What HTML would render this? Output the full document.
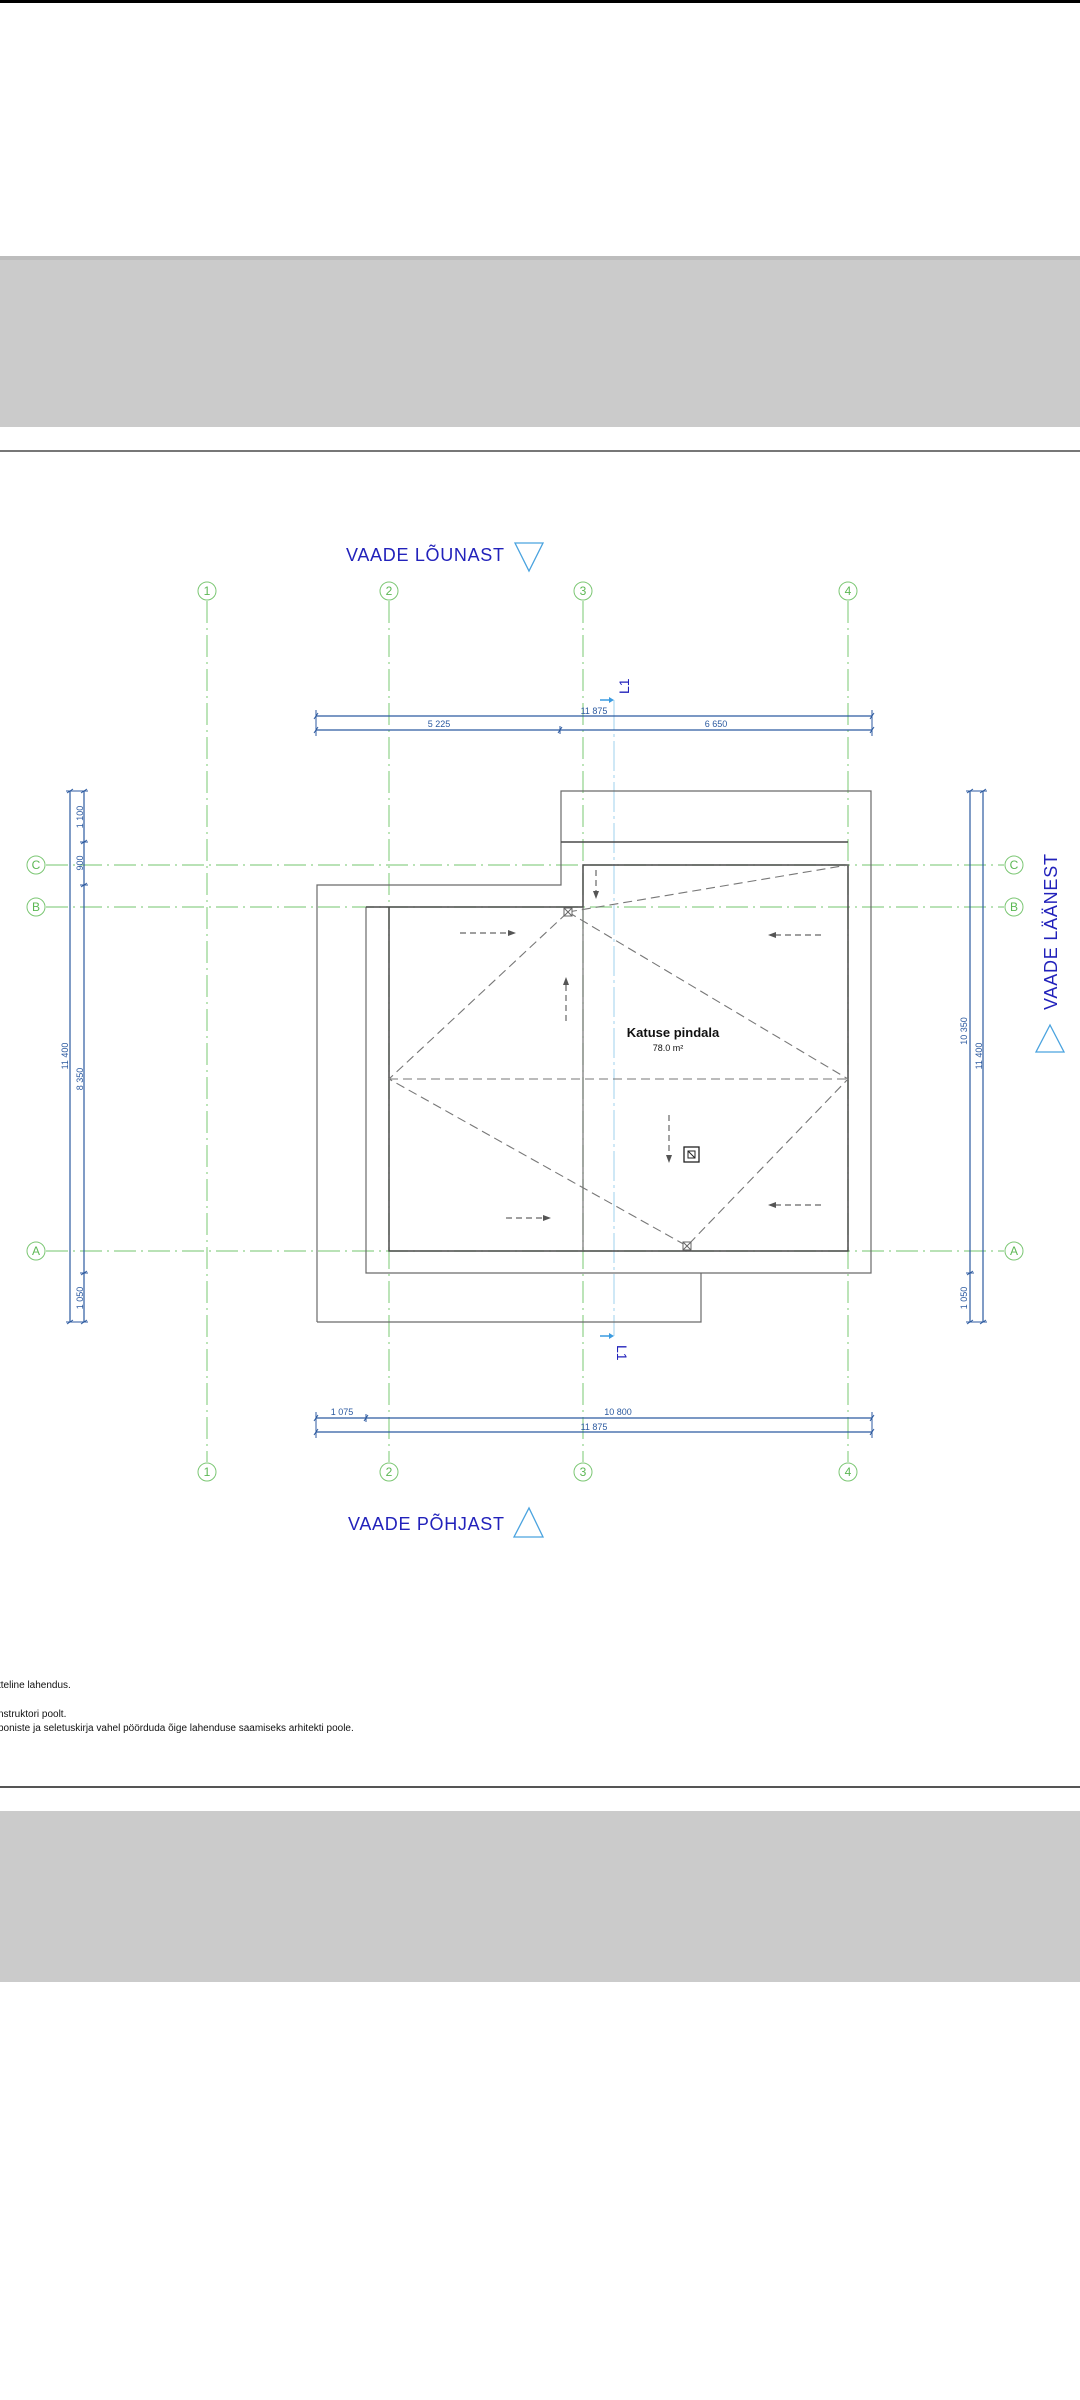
<!DOCTYPE html>
<html><head><meta charset="utf-8"><style>
html,body{margin:0;padding:0;background:#fff;width:1080px;height:2400px;overflow:hidden}
svg{display:block}
text{font-family:"Liberation Sans",Arial,sans-serif}
</style></head><body>
<svg width="1080" height="2400" viewBox="0 0 1080 2400" xmlns="http://www.w3.org/2000/svg">
<rect x="0" y="0" width="1080" height="3" fill="#000"/>
<rect x="0" y="256" width="1080" height="171" fill="#cbcbcb"/>
<rect x="0" y="256" width="1080" height="4" fill="#bdbdbd"/>
<rect x="0" y="450" width="1080" height="2" fill="#777"/>
<rect x="0" y="1786" width="1080" height="2" fill="#555"/>
<rect x="0" y="1811" width="1080" height="171" fill="#cbcbcb"/>

<g stroke="#8fd18a" stroke-width="1.2" stroke-dasharray="22,5,2,5" fill="none">
<line x1="207" y1="601" x2="207" y2="1462"/>
<line x1="389" y1="601" x2="389" y2="1462"/>
<line x1="583" y1="601" x2="583" y2="1462"/>
<line x1="848" y1="601" x2="848" y2="1462"/>
<line x1="46" y1="865" x2="1004" y2="865"/>
<line x1="46" y1="907" x2="1004" y2="907"/>
<line x1="46" y1="1251" x2="1004" y2="1251"/>
</g>
<g stroke="#7cc774" stroke-width="1" fill="#fff">
<circle cx="207" cy="591" r="9"/><circle cx="389" cy="591" r="9"/><circle cx="583" cy="591" r="9"/><circle cx="848" cy="591" r="9"/>
<circle cx="207" cy="1472" r="9"/><circle cx="389" cy="1472" r="9"/><circle cx="583" cy="1472" r="9"/><circle cx="848" cy="1472" r="9"/>
<circle cx="36" cy="865" r="9"/><circle cx="36" cy="907" r="9"/><circle cx="36" cy="1251" r="9"/>
<circle cx="1014" cy="865" r="9"/><circle cx="1014" cy="907" r="9"/><circle cx="1014" cy="1251" r="9"/>
</g>
<g fill="#5cb854" font-size="12" text-anchor="middle">
<text x="207" y="595">1</text><text x="389" y="595">2</text><text x="583" y="595">3</text><text x="848" y="595">4</text>
<text x="207" y="1476">1</text><text x="389" y="1476">2</text><text x="583" y="1476">3</text><text x="848" y="1476">4</text>
<text x="36" y="869">C</text><text x="36" y="911">B</text><text x="36" y="1255">A</text>
<text x="1014" y="869">C</text><text x="1014" y="911">B</text><text x="1014" y="1255">A</text>
</g>

<text x="346" y="561" font-size="18" fill="#2222bb" textLength="158">VAADE LÕUNAST</text>
<polygon points="515,543 543,543 529,571" fill="none" stroke="#4aa3df" stroke-width="1.3"/>
<text x="348" y="1530" font-size="18" fill="#2222bb" textLength="156">VAADE PÕHJAST</text>
<polygon points="514,1537 543,1537 529,1508" fill="none" stroke="#4aa3df" stroke-width="1.3"/>
<text transform="translate(1057,1010) rotate(-90)" font-size="18" fill="#2222bb" textLength="156">VAADE LÄÄNEST</text>
<polygon points="1036,1052 1064,1052 1050,1025" fill="none" stroke="#4aa3df" stroke-width="1.3"/>

<line x1="614" y1="700" x2="614" y2="1336" stroke="#9fd0ee" stroke-width="1" stroke-dasharray="30,4,3,4"/>
<line x1="600" y1="700" x2="612" y2="700" stroke="#3b9be0" stroke-width="1.5"/>
<polygon points="614,700 609,697 609,703" fill="#3b9be0"/>
<line x1="600" y1="1336" x2="612" y2="1336" stroke="#3b9be0" stroke-width="1.5"/>
<polygon points="614,1336 609,1333 609,1339" fill="#3b9be0"/>
<text transform="translate(629,694) rotate(-90)" font-size="14" fill="#2222bb">L1</text>
<text transform="translate(617,1345) rotate(90)" font-size="14" fill="#2222bb">L1</text>

<g stroke="#2c5aa0" stroke-width="1.2" fill="none">
<line x1="316" y1="716" x2="872" y2="716"/>
<line x1="316" y1="730" x2="872" y2="730"/>
<line x1="316" y1="1418" x2="872" y2="1418"/>
<line x1="316" y1="1432" x2="872" y2="1432"/>
<line x1="70" y1="791" x2="70" y2="1322"/>
<line x1="84" y1="791" x2="84" y2="1322"/>
<line x1="970" y1="791" x2="970" y2="1322"/>
<line x1="983" y1="791" x2="983" y2="1322"/>
<g stroke-width="1">
<line x1="316" y1="710" x2="316" y2="736"/><line x1="872" y1="710" x2="872" y2="736"/><line x1="560" y1="726" x2="560" y2="734"/>
<line x1="314" y1="719" x2="318" y2="713"/><line x1="870" y1="719" x2="874" y2="713"/>
<line x1="314" y1="733" x2="318" y2="727"/><line x1="558" y1="733" x2="562" y2="727"/><line x1="870" y1="733" x2="874" y2="727"/>
<line x1="316" y1="1412" x2="316" y2="1438"/><line x1="872" y1="1412" x2="872" y2="1438"/><line x1="366" y1="1414" x2="366" y2="1422"/>
<line x1="314" y1="1421" x2="318" y2="1415"/><line x1="364" y1="1421" x2="368" y2="1415"/><line x1="870" y1="1421" x2="874" y2="1415"/>
<line x1="314" y1="1435" x2="318" y2="1429"/><line x1="870" y1="1435" x2="874" y2="1429"/>
<line x1="66" y1="791" x2="88" y2="791"/><line x1="66" y1="1322" x2="88" y2="1322"/>
<line x1="80" y1="842" x2="88" y2="842"/><line x1="80" y1="885" x2="88" y2="885"/><line x1="80" y1="1273" x2="88" y2="1273"/>
<line x1="67" y1="793" x2="73" y2="789"/><line x1="81" y1="793" x2="87" y2="789"/><line x1="81" y1="844" x2="87" y2="840"/><line x1="81" y1="887" x2="87" y2="883"/><line x1="81" y1="1275" x2="87" y2="1271"/><line x1="67" y1="1324" x2="73" y2="1320"/><line x1="81" y1="1324" x2="87" y2="1320"/>
<line x1="966" y1="791" x2="987" y2="791"/><line x1="966" y1="1322" x2="987" y2="1322"/><line x1="966" y1="1273" x2="974" y2="1273"/>
<line x1="967" y1="793" x2="973" y2="789"/><line x1="980" y1="793" x2="986" y2="789"/><line x1="967" y1="1275" x2="973" y2="1271"/><line x1="967" y1="1324" x2="973" y2="1320"/><line x1="980" y1="1324" x2="986" y2="1320"/>
</g>
</g>
<g fill="#2c5aa0" font-size="9" text-anchor="middle">
<text x="594" y="714">11 875</text>
<text x="439" y="727">5 225</text>
<text x="716" y="727">6 650</text>
<text x="342" y="1415">1 075</text>
<text x="618" y="1415">10 800</text>
<text x="594" y="1430">11 875</text>
<text transform="translate(83,817) rotate(-90)">1 100</text>
<text transform="translate(83,863) rotate(-90)">900</text>
<text transform="translate(68,1056) rotate(-90)">11 400</text>
<text transform="translate(83,1079) rotate(-90)">8 350</text>
<text transform="translate(83,1298) rotate(-90)">1 050</text>
<text transform="translate(967,1031) rotate(-90)">10 350</text>
<text transform="translate(982,1056) rotate(-90)">11 400</text>
<text transform="translate(967,1298) rotate(-90)">1 050</text>
</g>

<g stroke="#6a6a6a" stroke-width="1.2" fill="none">
<polyline points="317,1322 317,885 561,885 561,791 871,791 871,1273 366,1273 366,907"/>
<polyline points="317,1322 701,1322 701,1273"/>
</g>
<g stroke="#4a4a4a" stroke-width="1.5" fill="none">
<line x1="561" y1="842" x2="848" y2="842"/>
<polyline points="366,907 583,907 583,865 848,865 848,1251 389,1251 389,907"/>
<line x1="583" y1="907" x2="583" y2="1251" stroke-width="1.1" stroke="#666"/>
</g>

<g stroke="#777" stroke-width="1.1" stroke-dasharray="9,5" fill="none">
<line x1="568" y1="912" x2="848" y2="865"/>
<polygon points="568,912 848,1079 687,1246 389,1079"/>
<line x1="389" y1="1079" x2="848" y2="1079"/>
</g>
<g stroke="#666" stroke-width="1" fill="#fff">
<rect x="564" y="908" width="8" height="8"/><line x1="564" y1="908" x2="572" y2="916"/><line x1="572" y1="908" x2="564" y2="916"/>
<rect x="683" y="1242" width="8" height="8"/><line x1="683" y1="1242" x2="691" y2="1250"/><line x1="691" y1="1242" x2="683" y2="1250"/>
</g>
<g stroke="#666" stroke-width="1.2" stroke-dasharray="6,4" fill="none">
<line x1="460" y1="933" x2="510" y2="933"/>
<line x1="775" y1="935" x2="825" y2="935"/>
<line x1="566" y1="985" x2="566" y2="1025"/>
<line x1="596" y1="870" x2="596" y2="892"/>
<line x1="669" y1="1115" x2="669" y2="1157"/>
<line x1="506" y1="1218" x2="545" y2="1218"/>
<line x1="775" y1="1205" x2="825" y2="1205"/>
</g>
<g fill="#555">
<polygon points="516,933 508,930 508,936"/>
<polygon points="768,935 776,932 776,938"/>
<polygon points="566,977 563,985 569,985"/>
<polygon points="596,899 593,891 599,891"/>
<polygon points="669,1163 666,1155 672,1155"/>
<polygon points="551,1218 543,1215 543,1221"/>
<polygon points="768,1205 776,1202 776,1208"/>
</g>
<rect x="684" y="1147" width="15" height="15" fill="#fff" stroke="#222" stroke-width="1.3"/>
<rect x="688" y="1151" width="7" height="7" fill="none" stroke="#222" stroke-width="1"/>
<line x1="688" y1="1151" x2="695" y2="1158" stroke="#222" stroke-width="1"/>
<text x="673" y="1037" font-size="13" font-weight="bold" text-anchor="middle" fill="#111">Katuse pindala</text>
<text x="668" y="1051" font-size="9" text-anchor="middle" fill="#111">78.0 m²</text>

<g font-size="10" fill="#111">
<text x="-2" y="1688">tteline lahendus.</text>
<text x="-2" y="1717">nstruktori poolt.</text>
<text x="-2" y="1731">poniste ja seletuskirja vahel pöörduda õige lahenduse saamiseks arhitekti poole.</text>
</g>
</svg>
</body></html>
